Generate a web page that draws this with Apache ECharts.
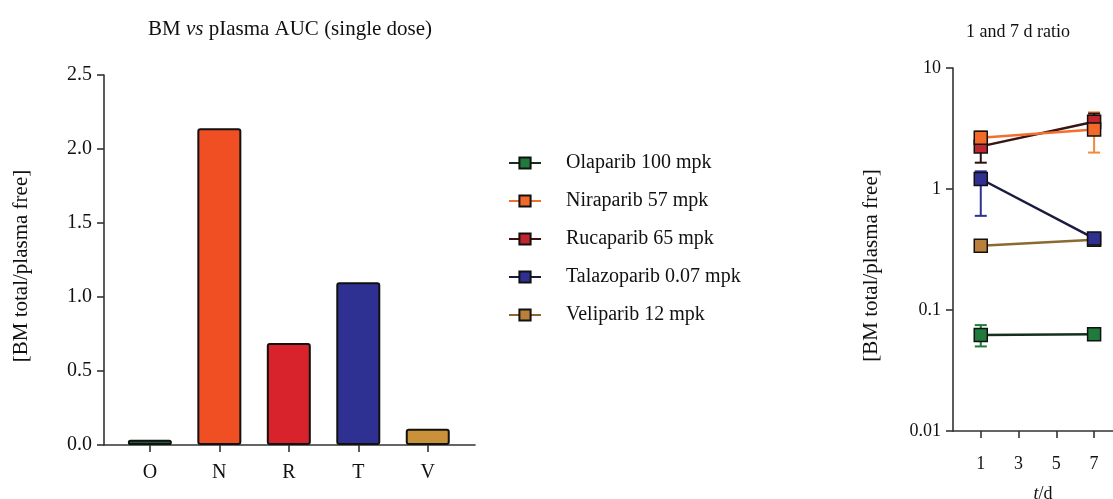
<!DOCTYPE html>
<html><head><meta charset="utf-8">
<script src="https://cdn.jsdelivr.net/npm/echarts@6/dist/echarts.min.js"></script>
<style>html,body{margin:0;padding:0;background:#fff}#c{width:1113px;height:499px}</style>
</head><body><div id="c"></div>
<script>
// ---- data ----
const barCategories = ['O','N','R','T','V'];
const barValues = [0.035, 2.14, 0.69, 1.10, 0.11];
const barColors = ['#1d5e36','#f04e23','#d9232c','#2e3192','#c8913a'];
const barTicks = [0, 0.5, 1.0, 1.5, 2.0, 2.5];

const days = [1, 7];
const dayTicks = [1, 3, 5, 7];
const logTicks = [0.01, 0.1, 1, 10];
const drugNames = ['Olaparib 100 mpk','Niraparib 57 mpk','Rucaparib 65 mpk','Talazoparib 0.07 mpk','Veliparib 12 mpk'];
const olaparibMean = [0.062, 0.063];
const olaparibLow  = [0.050, 0.060];
const olaparibHigh = [0.075, 0.066];
const niraparibMean = [2.65, 3.1];
const niraparibLow  = [2.3, 2.0];
const niraparibHigh = [3.0, 4.3];
const rucaparibMean = [2.25, 3.6];
const rucaparibLow  = [1.65, 3.2];
const rucaparibHigh = [2.5, 4.2];
const talazoparibMean = [1.21, 0.39];
const talazoparibLow  = [0.6, 0.36];
const talazoparibHigh = [1.4, 0.43];
const veliparibMean = [0.34, 0.38];
const veliparibLow  = [0.32, 0.36];
const veliparibHigh = [0.36, 0.40];

const means = [olaparibMean, niraparibMean, rucaparibMean, talazoparibMean, veliparibMean];
const lows = [olaparibLow, niraparibLow, rucaparibLow, talazoparibLow, veliparibLow];
const highs = [olaparibHigh, niraparibHigh, rucaparibHigh, talazoparibHigh, veliparibHigh];
const markerColors = ['#1f7a3c','#f26a2a','#c0262d','#2e3192','#b8803a'];
const lineColors = ['#15301c','#f0702c','#3a1412','#1b1b3e','#8a6a2e'];
const errColors = ['#1f7a3c','#f08a3a','#2a1010','#2e3192','#8a6a2e'];
const seriesZ = [3, 5, 4, 4, 2];
// ---- chart ----
const serif = 'Liberation Serif';
const chart = echarts.init(document.getElementById('c'));

const series = [];
series.push({
  type: 'bar', xAxisIndex: 0, yAxisIndex: 0, barWidth: 44,
  data: barValues.map((v, i) => ({
    value: [i, v],
    itemStyle: { color: barColors[i], borderColor: '#111', borderWidth: 2, borderRadius: 2 }
  }))
});
drugNames.forEach((name, k) => {
  series.push({
    name: name, type: 'line', xAxisIndex: 1, yAxisIndex: 1,
    symbol: 'rect', symbolSize: 13, z: seriesZ[k],
    lineStyle: { color: lineColors[k], width: 2.5 },
    itemStyle: { color: markerColors[k], borderColor: '#111', borderWidth: 1.5 },
    data: days.map((d, j) => [d, means[k][j]])
  });
  series.push({
    type: 'custom', xAxisIndex: 1, yAxisIndex: 1, z: 1, silent: true,
    data: days.map((d, j) => [d, lows[k][j], highs[k][j]]),
    renderItem: function (params, api) {
      const x = api.value(0);
      const lo = api.coord([x, api.value(1)]);
      const hi = api.coord([x, api.value(2)]);
      const w = 6;
      const st = { stroke: errColors[k], lineWidth: 2 };
      return { type: 'group', children: [
        { type: 'line', shape: { x1: lo[0], y1: lo[1], x2: hi[0], y2: hi[1] }, style: st },
        { type: 'line', shape: { x1: lo[0]-w, y1: lo[1], x2: lo[0]+w, y2: lo[1] }, style: st },
        { type: 'line', shape: { x1: hi[0]-w, y1: hi[1], x2: hi[0]+w, y2: hi[1] }, style: st }
      ]};
    }
  });
});

const lineSt = { color: '#333', width: 1.6 };

chart.setOption({
  animation: false,
  textStyle: { fontFamily: serif },
  title: [
    { text: 'BM {i|vs} pIasma AUC (single dose)', left: 285, top: 14, textAlign: 'center',
      textStyle: { fontFamily: serif, fontSize: 21, fontWeight: 'normal', color: '#111',
        rich: { i: { fontFamily: serif, fontSize: 21, fontStyle: 'italic', color: '#111' } } } },
    { text: '1 and 7 d ratio', left: 1013, top: 18, textAlign: 'center',
      textStyle: { fontFamily: serif, fontSize: 18, fontWeight: 'normal', color: '#111' } }
  ],
  legend: {
    data: drugNames, orient: 'vertical', left: 503, top: 148, itemGap: 18,
    itemWidth: 32, itemHeight: 14,
    textStyle: { fontFamily: serif, fontSize: 20, color: '#111', padding: [0,0,0,20] }
  },
  grid: [
    { left: 104, top: 75, width: 371, bottom: 54, outerBoundsMode: 'none', containLabel: false },
    { left: 953, top: 68, right: 0, bottom: 68, outerBoundsMode: 'none', containLabel: false }
  ],
  xAxis: [
    { type: 'value', gridIndex: 0, min: -0.66, max: 4.68,
      splitLine: { show: false }, axisLine: { lineStyle: lineSt },
      axisTick: { show: true, customValues: barCategories.map((c, i) => i), length: 7, lineStyle: lineSt },
      axisLabel: { customValues: barCategories.map((c, i) => i), formatter: v => barCategories[Math.round(v)] || '',
        fontFamily: serif, fontSize: 20, color: '#111', margin: 18 } },
    { type: 'value', gridIndex: 1, min: -0.47, max: 8,
      splitLine: { show: false }, axisLine: { lineStyle: lineSt },
      axisTick: { show: true, customValues: dayTicks, length: 7, lineStyle: lineSt },
      axisLabel: { customValues: dayTicks, fontFamily: serif, fontSize: 18, color: '#111', margin: 24 },
      name: '{i|t}/d', nameLocation: 'middle', nameGap: 54,
      nameTextStyle: { fontFamily: serif, fontSize: 18, color: '#111', padding: [0,0,0,20],
        rich: { i: { fontFamily: serif, fontSize: 18, fontStyle: 'italic', color: '#111' } } } }
  ],
  yAxis: [
    { type: 'value', gridIndex: 0, min: 0, max: 2.5, interval: 0.5,
      splitLine: { show: false }, axisLine: { show: true, onZero: false, lineStyle: lineSt },
      axisTick: { show: true, length: 7, lineStyle: lineSt },
      axisLabel: { formatter: v => v.toFixed(1), fontFamily: serif, fontSize: 20, color: '#111', margin: 12 },
      name: '[BM total/plasma free]', nameLocation: 'middle', nameGap: 72, nameRotate: 90,
      nameTextStyle: { fontFamily: serif, fontSize: 21, color: '#111', padding: [0, 12, 0, 0] } },
    { type: 'log', gridIndex: 1, logBase: 10, min: 0.01, max: 10,
      splitLine: { show: false }, minorTick: { show: false },
      axisLine: { show: true, onZero: false, lineStyle: lineSt },
      axisTick: { show: true, length: 7, lineStyle: lineSt },
      axisLabel: { formatter: v => String(logTicks.find(t => Math.abs(Math.log10(t) - Math.log10(v)) < 1e-6) ?? v),
        fontFamily: serif, fontSize: 18, color: '#111', margin: 12 },
      name: '[BM total/plasma free]', nameLocation: 'middle', nameGap: 71, nameRotate: 90,
      nameTextStyle: { fontFamily: serif, fontSize: 21, color: '#111', padding: [0, 32, 0, 0] } }
  ],
  series: series
});
</script></body></html>
